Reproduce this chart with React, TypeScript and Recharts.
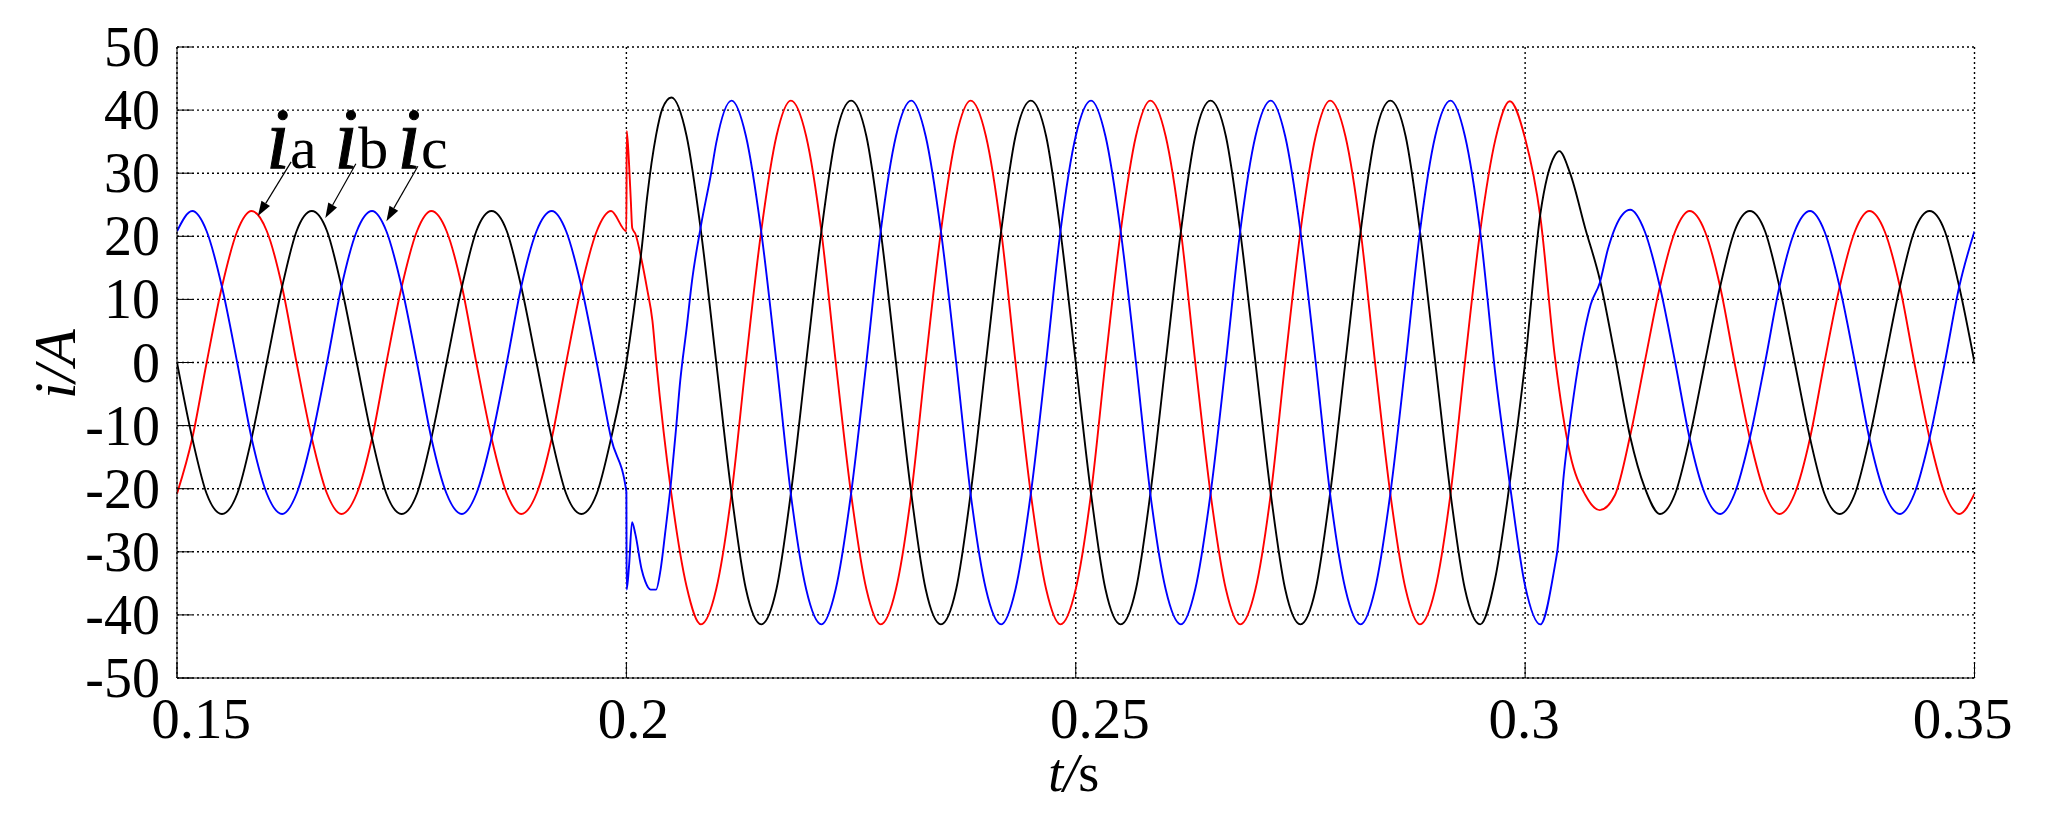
import React from "react";
import {
  LineChart,
  Line,
  XAxis,
  YAxis,
  CartesianGrid,
  ReferenceLine,
  ReferenceDot,
} from "recharts";

const SERIF = '"Liberation Serif", "Times New Roman", serif';

// sample instants, one every 30 degrees of the 50 Hz period (s)
const time = [
  0.15, 0.1517, 0.1533, 0.155, 0.1567, 0.1583, 0.16, 0.1617, 0.1633, 0.165,
  0.1667, 0.1683, 0.17, 0.1717, 0.1733, 0.175, 0.1767, 0.1783, 0.18, 0.1817,
  0.1833, 0.185, 0.1867, 0.1883, 0.19, 0.1917, 0.1933, 0.195, 0.1967, 0.1983,
  0.2, 0.2017, 0.2033, 0.205, 0.2067, 0.2083, 0.21, 0.2117, 0.2133, 0.215,
  0.2167, 0.2183, 0.22, 0.2217, 0.2233, 0.225, 0.2267, 0.2283, 0.23, 0.2317,
  0.2333, 0.235, 0.2367, 0.2383, 0.24, 0.2417, 0.2433, 0.245, 0.2467, 0.2483,
  0.25, 0.2517, 0.2533, 0.255, 0.2567, 0.2583, 0.26, 0.2617, 0.2633, 0.265,
  0.2667, 0.2683, 0.27, 0.2717, 0.2733, 0.275, 0.2767, 0.2783, 0.28, 0.2817,
  0.2833, 0.285, 0.2867, 0.2883, 0.29, 0.2917, 0.2933, 0.295, 0.2967, 0.2983,
  0.3, 0.3017, 0.3033, 0.305, 0.3067, 0.3083, 0.31, 0.3117, 0.3133, 0.315,
  0.3167, 0.3183, 0.32, 0.3217, 0.3233, 0.325, 0.3267, 0.3283, 0.33, 0.3317,
  0.3333, 0.335, 0.3367, 0.3383, 0.34, 0.3417, 0.3433, 0.345, 0.3467, 0.3483,
  0.35,
];

// phase currents (A) at those instants
const ia = [
  -20.8, -12, 0, 12, 20.8, 24, 20.8, 12, 0, -12,
  -20.8, -24, -20.8, -12, 0, 12, 20.8, 24, 20.8, 12,
  0, -12, -20.8, -24, -20.8, -12, 0, 12, 20.8, 24,
  20.8, 16.2, 0.5, -20.8, -35.5, -41.5, -35.9, -20.8, 0, 20.8,
  35.9, 41.5, 35.9, 20.8, 0, -20.8, -35.9, -41.5, -35.9, -20.8,
  0, 20.8, 35.9, 41.5, 35.9, 20.8, 0, -20.8, -35.9, -41.5,
  -35.9, -20.8, 0, 20.8, 35.9, 41.5, 35.9, 20.8, 0, -20.8,
  -35.9, -41.5, -35.9, -20.8, 0, 20.8, 35.9, 41.5, 35.9, 20.8,
  0, -20.8, -35.9, -41.5, -35.9, -20.8, 0, 20.8, 35.4, 41.4,
  35.5, 23, 1, -14.5, -21, -23.4, -21, -11.5, 0, 12,
  20.8, 24, 20.8, 12, 0, -12, -20.8, -24, -20.8, -12,
  0, 12, 20.8, 24, 20.8, 12, 0, -12, -20.8, -24,
  -20.8,
];

const ib = [
  0, -12, -20.8, -24, -20.8, -12, 0, 12, 20.8, 24,
  20.8, 12, 0, -12, -20.8, -24, -20.8, -12, 0, 12,
  20.8, 24, 20.8, 12, 0, -12, -20.8, -24, -20.8, -12,
  0, 18, 36, 42, 35.9, 20.8, 0, -20.8, -35.9, -41.5,
  -35.9, -20.8, 0, 20.8, 35.9, 41.5, 35.9, 20.8, 0, -20.8,
  -35.9, -41.5, -35.9, -20.8, 0, 20.8, 35.9, 41.5, 35.9, 20.8,
  0, -20.8, -35.9, -41.5, -35.9, -20.8, 0, 20.8, 35.9, 41.5,
  35.9, 20.8, 0, -20.8, -35.9, -41.5, -35.9, -20.8, 0, 20.8,
  35.9, 41.5, 35.9, 20.8, 0, -20.8, -35.9, -41.5, -34, -19,
  0, 23.6, 32.8, 30, 21.2, 13.2, 1, -11.8, -19.8, -24,
  -20.8, -12, 0, 12, 20.8, 24, 20.8, 12, 0, -12,
  -20.8, -24, -20.8, -12, 0, 12, 20.8, 24, 20.8, 12,
  0,
];

const ic = [
  20.8, 24, 20.8, 12, 0, -12, -20.8, -24, -20.8, -12,
  0, 12, 20.8, 24, 20.8, 12, 0, -12, -20.8, -24,
  -20.8, -12, 0, 12, 20.8, 24, 20.8, 12, 0, -12,
  -20.5, -32.8, -36, -18.5, 5.4, 21.7, 34.8, 41.5, 35.9, 20.8,
  0, -20.8, -35.9, -41.5, -35.9, -20.8, 0, 20.8, 35.9, 41.5,
  35.9, 20.8, 0, -20.8, -35.9, -41.5, -35.9, -20.8, 0, 20.8,
  35.9, 41.5, 35.9, 20.8, 0, -20.8, -35.9, -41.5, -35.9, -20.8,
  0, 20.8, 35.9, 41.5, 35.9, 20.8, 0, -20.8, -35.9, -41.5,
  -35.9, -20.8, 0, 20.8, 35.9, 41.5, 35.9, 20.8, -2, -19.3,
  -35.4, -41.5, -32.3, -9.5, 5.6, 12.6, 21.3, 24.2, 20.8, 12,
  0, -12, -20.8, -24, -20.8, -12, 0, 12, 20.8, 24,
  20.8, 12, 0, -12, -20.8, -24, -20.8, -12, 0, 12,
  20.8,
];

// extra readings [t, i] around the load steps at 0.2 s and 0.3 s
const iaStep: [number, number][] = [
  [0.20004, 36.7], [0.2003, 31.4], [0.2005, 25.5], [0.20065, 21.3],
  [0.201, 20.4], [0.2023, 11.7], [0.2029, 6.6],
];
const ibStep: [number, number][] = [
  [0.2008, 7.9], [0.2023, 26.1], [0.204, 40.2], [0.3038, 33.5],
];
const icStep: [number, number][] = [
  [0.20003, -36], [0.2003, -32.2], [0.20063, -25.3], [0.201, -27.2],
  [0.2021, -34.7], [0.2027, -36], [0.2038, -32.9], [0.2043, -27.2],
  [0.2055, -10.9], [0.206, -2.8], [0.2073, 12.9], [0.2094, 29.8],
  [0.3036, -29.7], [0.3043, -17.8], [0.3073, 9.2], [0.3092, 17.9],
];

const xTicks = [0.15, 0.2, 0.25, 0.3, 0.35];
const yTicks = [-50, -40, -30, -20, -10, 0, 10, 20, 30, 40, 50];

// phase labels ("i" + letter) and the arrows pointing at the peaks
const phaseNames = ["a", "b", "c"];
const labelAnchor: [number, number][] = [[0.1599, 30.8], [0.1675, 30.8], [0.1745, 30.8]];
const arrowFrom: [number, number][] = [[0.1627, 31.8], [0.1699, 31.5], [0.1768, 31.1]];
const arrowTo: [number, number][] = [[0.159, 23.2], [0.1665, 22.9], [0.1733, 22.4]];

// the printed x labels sit a little off their ticks in the original
const xLabelShift = [24, 7, 24, -1, -12];

const toSeries = (values: number[], extra: [number, number][]) =>
  [
    ...time.map((t, k) => ({ t, v: values[k] })),
    ...extra.map(([t, v]) => ({ t, v })),
  ].sort((a, b) => a.t - b.t);

const seriesA = toSeries(ia, iaStep);
const seriesB = toSeries(ib, ibStep);
const seriesC = toSeries(ic, icStep);

const YTick = ({ x, y, payload }: any) => (
  <text x={x} y={y} dy={19} textAnchor="end" fontFamily={SERIF} fontSize={56} fill="#000">
    {String(payload.value)}
  </text>
);

const XTick = ({ x, y, payload }: any) => {
  const k = xTicks.indexOf(payload.value);
  return (
    <text
      x={x + (xLabelShift[k] ?? 0)}
      y={y}
      dy={60}
      textAnchor="middle"
      fontFamily={SERIF}
      fontSize={57}
      fill="#000"
    >
      {String(payload.value)}
    </text>
  );
};

const yTitle = (props: any) => {
  const vb = props.viewBox ?? props;
  const cx = vb.x + 75;
  const cy = vb.y + vb.height / 2 + 1.5;
  return (
    <text
      x={cx}
      y={cy}
      transform={`rotate(-90 ${cx} ${cy})`}
      textAnchor="middle"
      fontFamily={SERIF}
      fontSize={60}
      fontStyle="italic"
      fill="#000"
    >
      i/A
    </text>
  );
};

const xTitle = (props: any) => {
  const vb = props.viewBox ?? props;
  return (
    <text
      x={vb.x + vb.width / 2 - 2}
      y={vb.y + 113}
      textAnchor="middle"
      fontFamily={SERIF}
      fontSize={54}
      fill="#000"
    >
      <tspan fontStyle="italic">t/</tspan>
      <tspan>s</tspan>
    </text>
  );
};

const Arrow = (p: any) => {
  const { x1, y1, x2, y2 } = p;
  const dx = x2 - x1;
  const dy = y2 - y1;
  const len = Math.hypot(dx, dy) || 1;
  const ux = dx / len;
  const uy = dy / len;
  const head = 15;
  const half = 5;
  const bx = x2 - ux * head;
  const by = y2 - uy * head;
  const pts = `${x2},${y2} ${bx - uy * half},${by + ux * half} ${bx + uy * half},${by - ux * half}`;
  return (
    <g>
      <line x1={x1} y1={y1} x2={bx} y2={by} stroke="#000" strokeWidth={1.2} />
      <polygon points={pts} fill="#000" />
    </g>
  );
};

const phaseLabel = (name: string) => (p: any) => (
  <text x={p.cx} y={p.cy} fontFamily={SERIF} fill="#000">
    <tspan fontStyle="italic" fontSize={86} stroke="#000" strokeWidth={1}>
      i
    </tspan>
    <tspan fontSize={60}>{name}</tspan>
  </text>
);

export default function App() {
  return (
    <div style={{ position: "absolute", left: 0, top: 0, background: "#fff" }}>
      <LineChart
        width={2047}
        height={820}
        margin={{ top: 47, right: 72.5, bottom: 0, left: 0 }}
      >
        <CartesianGrid stroke="#000" strokeDasharray="2 3" strokeWidth={1.4} />

        <XAxis
          dataKey="t"
          type="number"
          domain={[0.15, 0.35]}
          ticks={xTicks}
          interval={0}
          allowDataOverflow
          height={142}
          stroke="#000"
          tickSize={-15}
          tickMargin={15}
          tick={<XTick />}
          label={xTitle}
        />
        <XAxis
          xAxisId="top"
          orientation="top"
          type="number"
          domain={[0.15, 0.35]}
          ticks={xTicks}
          interval={0}
          allowDataOverflow
          height={0}
          stroke="#000"
          tickSize={-15}
          tick={false}
        />
        <YAxis
          type="number"
          domain={[-50, 50]}
          ticks={yTicks}
          interval={0}
          allowDataOverflow
          width={177}
          stroke="#000"
          tickSize={-15}
          tickMargin={32}
          tick={<YTick />}
          label={yTitle}
        />
        <YAxis
          yAxisId="right"
          orientation="right"
          type="number"
          domain={[-50, 50]}
          ticks={yTicks}
          interval={0}
          allowDataOverflow
          width={0}
          stroke="#000"
          tickSize={-15}
          tick={false}
        />

        <Line data={seriesA} dataKey="v" type="monotone" stroke="#ff0000" strokeWidth={1.9} dot={false} activeDot={false} isAnimationActive={false} />
        <Line data={seriesB} dataKey="v" type="monotone" stroke="#000000" strokeWidth={1.9} dot={false} activeDot={false} isAnimationActive={false} />
        <Line data={seriesC} dataKey="v" type="monotone" stroke="#0000ff" strokeWidth={1.9} dot={false} activeDot={false} isAnimationActive={false} />

        {phaseNames.map((name, k) => (
          <ReferenceLine
            key={`arrow-${name}`}
            segment={[
              { x: arrowFrom[k][0], y: arrowFrom[k][1] },
              { x: arrowTo[k][0], y: arrowTo[k][1] },
            ]}
            shape={Arrow}
          />
        ))}
        {phaseNames.map((name, k) => (
          <ReferenceDot
            key={`label-${name}`}
            x={labelAnchor[k][0]}
            y={labelAnchor[k][1]}
            shape={phaseLabel(name)}
          />
        ))}
      </LineChart>
    </div>
  );
}
